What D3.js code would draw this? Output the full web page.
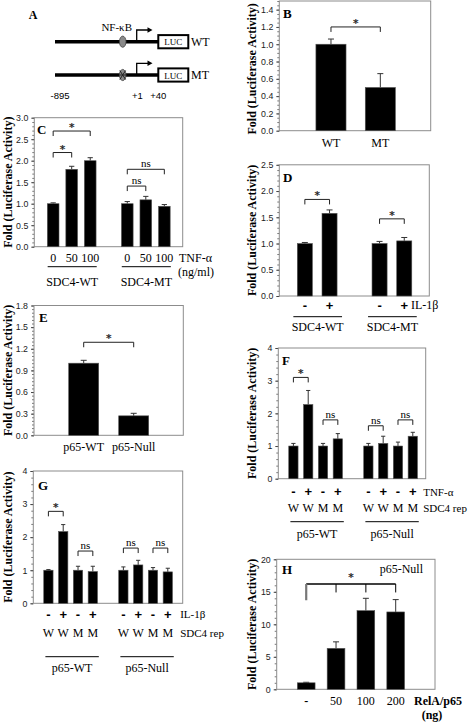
<!DOCTYPE html>
<html><head><meta charset="utf-8">
<script src="https://cdn.jsdelivr.net/npm/d3@7/dist/d3.min.js"></script>
<style>body{margin:0;background:#fff} svg{display:block} text.star{font-variant-emoji:text}</style>
</head><body><svg id="fig" width="475" height="723"></svg>
<script>
// ---------------- DATA ----------------
// Panel A (schematic)
const aConstructs = ["WT", "MT"];
const aPositions = ["-895", "+1", "+40"];
// Panel B
const bCategories = ["WT", "MT"];
const bValues = [1.0, 0.50];
const bErrors = [0.06, 0.16];
const bTicks = [0, 0.2, 0.4, 0.6, 0.8, 1.0, 1.2, 1.4];
const bBrackets = [{ g: 0, from: 0, to: 1, level: 1.2, label: "*" }];
// Panel C
const cGroups = ["SDC4-WT", "SDC4-MT"];
const cDoses = ["0", "50", "100"];
const cValues = [[1.0, 1.80, 2.0], [1.0, 1.09, 0.94]];
const cErrors = [[0.02, 0.07, 0.07], [0.05, 0.08, 0.04]];
const cTicks = [0, 0.5, 1.0, 1.5, 2.0, 2.5, 3.0];
const cBrackets = [
  { g: 0, from: 0, to: 2, level: 2.69, label: "*" },
  { g: 0, from: 0, to: 1, level: 2.19, label: "*" },
  { g: 1, from: 0, to: 2, level: 1.80, label: "ns" },
  { g: 1, from: 0, to: 1, level: 1.41, label: "ns" }
];
// Panel D
const dGroups = ["SDC4-WT", "SDC4-MT"];
const dTreat = ["-", "+"];
const dValues = [[1.0, 1.575], [1.0, 1.05]];
const dErrors = [[0.02, 0.065], [0.04, 0.065]];
const dTicks = [0, 0.5, 1.0, 1.5, 2.0, 2.5];
const dBrackets = [
  { g: 0, from: 0, to: 1, level: 1.84, label: "*" },
  { g: 1, from: 0, to: 1, level: 1.47, label: "*" }
];
// Panel E
const eCategories = ["p65-WT", "p65-Null"];
const eValues = [1.0, 0.27];
const eErrors = [0.04, 0.035];
const eTicks = [0, 0.3, 0.6, 0.9, 1.2, 1.5, 1.8];
const eBrackets = [{ g: 0, from: 0, to: 1, level: 1.29, label: "*" }];
// Panel F
const fGroups = ["p65-WT", "p65-Null"];
const fTreat = ["-", "+", "-", "+"];
const fReporter = ["W", "W", "M", "M"];
const fValues = [[1.0, 2.27, 1.0, 1.22], [1.0, 1.08, 1.0, 1.30]];
const fErrors = [[0.08, 0.43, 0.08, 0.16], [0.08, 0.22, 0.12, 0.12]];
const fTicks = [0, 1, 2, 3, 4];
const fBrackets = [
  { g: 0, from: 0, to: 1, level: 3.10, label: "*" },
  { g: 0, from: 2, to: 3, level: 1.80, label: "ns" },
  { g: 1, from: 0, to: 1, level: 1.62, label: "ns" },
  { g: 1, from: 2, to: 3, level: 1.80, label: "ns" }
];
// Panel G
const gGroups = ["p65-WT", "p65-Null"];
const gTreat = ["-", "+", "-", "+"];
const gReporter = ["W", "W", "M", "M"];
const gValues = [[1.0, 2.17, 1.0, 0.96], [1.0, 1.16, 1.0, 0.95]];
const gErrors = [[0.02, 0.21, 0.12, 0.16], [0.10, 0.14, 0.08, 0.11]];
const gTicks = [0, 1, 2, 3, 4];
const gBrackets = [
  { g: 0, from: 0, to: 1, level: 2.78, label: "*" },
  { g: 0, from: 2, to: 3, level: 1.58, label: "ns" },
  { g: 1, from: 0, to: 1, level: 1.67, label: "ns" },
  { g: 1, from: 2, to: 3, level: 1.67, label: "ns" }
];
// Panel H
const hDoses = ["-", "50", "100", "200"];
const hValues = [1.0, 6.3, 12.1, 11.9];
const hErrors = [0.08, 1.0, 1.9, 1.9];
const hTicks = [0, 5, 10, 15, 20];
const hBracket = { level: 16.2, baseEnd: 13.7, tickEnd: 14.9, label: "*" };

// ---------------- DRAWING ----------------
const svg = d3.select("#fig");
const SERIF = "'Liberation Serif','Times New Roman',serif";
const SANS = "'Liberation Sans',Arial,sans-serif";
const BOX = "#8c8c8c";

function txt(g, x, y, s, o = {}) {
  return g.append("text").attr("x", x).attr("y", y).text(s)
    .attr("font-family", o.family || SERIF).attr("font-size", o.size || 12)
    .attr("font-weight", o.weight || "normal").attr("text-anchor", o.anchor || "middle")
    .attr("dominant-baseline", "central").attr("fill", o.fill || "#000")
    .style("fill", o.fill || "#000");
}
function star(g, x, y) {
  // thin stroke makes the glyph render as a path (grayscale antialiasing)
  return txt(g, x, y + 1.5, "*", { size: 11, family: "'DejaVu Sans',sans-serif", fill: "#222" })
    .attr("class", "star").attr("stroke", "#222").attr("stroke-width", 0.25);
}

function drawPanel(p) {
  const g = svg.append("g");
  const y = d3.scaleLinear().domain([0, p.yMax]).range([p.bottom, p.top]);
  const x0 = d3.scaleBand().domain(p.groups).range(p.xRange).paddingInner(p.groupPad || 0).paddingOuter(0);
  const x1 = d3.scaleBand().domain(d3.range(p.items.length)).range([0, x0.bandwidth()])
    .paddingInner(p.barPad).paddingOuter(p.barPad / 2);
  const cx = (gi, ii) => x0(p.groups[gi]) + x1(ii) + x1.bandwidth() / 2;

  // minor ticks
  const minor = d3.range(0, p.yMax + 1e-9, p.minor);
  const mg = g.append("g").attr("transform", `translate(${p.left},0)`)
    .call(d3.axisLeft(y).tickValues(minor).tickSize(2).tickFormat(""));
  mg.select(".domain").remove();
  mg.selectAll("line").attr("stroke", "#555").attr("stroke-width", 0.8);
  // major ticks
  const ag = g.append("g").attr("transform", `translate(${p.left},0)`)
    .call(d3.axisLeft(y).tickValues(p.ticks).tickSize(3).tickPadding(3).tickFormat(p.fmt));
  ag.select(".domain").remove();
  ag.selectAll("line").attr("stroke", "#444");
  ag.selectAll("text").attr("font-family", SANS).attr("font-size", 8.8).attr("fill", "#222");
  // box
  g.append("rect").attr("x", p.left).attr("y", p.top).attr("width", p.right - p.left)
    .attr("height", p.bottom - p.top).attr("fill", "none").attr("stroke", BOX).attr("stroke-width", 1);

  // bars
  const flat = [];
  p.values.forEach((row, gi) => row.forEach((v, ii) => flat.push({ gi, ii, v, e: p.errors[gi][ii] })));
  const bw = x1.bandwidth();
  const cap = Math.min(6, bw * 0.45);
  g.selectAll("line.err").data(flat).join("line").attr("class", "err")
    .attr("x1", d => cx(d.gi, d.ii)).attr("x2", d => cx(d.gi, d.ii))
    .attr("y1", d => y(d.v)).attr("y2", d => y(d.v + d.e)).attr("stroke", "#333").attr("stroke-width", 1);
  g.selectAll("line.cap").data(flat).join("line").attr("class", "cap")
    .attr("x1", d => cx(d.gi, d.ii) - cap / 2).attr("x2", d => cx(d.gi, d.ii) + cap / 2)
    .attr("y1", d => y(d.v + d.e)).attr("y2", d => y(d.v + d.e)).attr("stroke", "#333").attr("stroke-width", 1);
  g.selectAll("rect.bar").data(flat).join("rect").attr("class", "bar")
    .attr("x", d => cx(d.gi, d.ii) - bw / 2).attr("width", bw)
    .attr("y", d => y(d.v)).attr("height", d => y(0) - y(d.v))
    .attr("fill", "#000").attr("stroke", "#555").attr("stroke-width", 0.6);

  // brackets
  (p.brackets || []).forEach(b => {
    const xa = cx(b.g, b.from), xb = cx(b.g, b.to), yl = y(b.level);
    g.append("path").attr("d", `M${xa},${yl + 5}V${yl}H${xb}V${yl + 5}`)
      .attr("fill", "none").attr("stroke", "#222").attr("stroke-width", 1);
    if (b.label === "*") star(g, (xa + xb) / 2, yl - 5);
    else txt(g, (xa + xb) / 2, yl - 6, b.label, { size: 11 });
  });

  // y title
  txt(g, 0, 0, "Fold (Luciferase Activity)", { size: 12, weight: "bold" })
    .attr("transform", `translate(${p.titleX},${(p.top + p.bottom) / 2 + (p.titleDy || 0)}) rotate(-90)`);
  // panel letter
  txt(g, p.letterX, p.letterY, p.letter, { size: 13, weight: "bold", anchor: "start" });
  return { g, y, cx, x0, x1 };
}

// ---------- Panel A ----------
(function () {
  const g = svg.append("g");
  txt(g, 33, 15, "A", { size: 12, weight: "bold" });
  txt(g, 116.7, 26.5, "NF-\u03BAB", { size: 11 });
  const rows = [41.7, 75];
  aConstructs.forEach((name, i) => {
    const yl = rows[i];
    g.append("line").attr("x1", 55).attr("x2", 158).attr("y1", yl).attr("y2", yl)
      .attr("stroke", "#000").attr("stroke-width", 3.5);
    g.append("ellipse").attr("cx", 122.7).attr("cy", yl).attr("rx", 3.3).attr("ry", 5.6)
      .attr("fill", "#8a8a8a").attr("stroke", "#444").attr("stroke-width", 0.8);
    if (name === "MT") {
      g.append("path").attr("d", `M119.8,${yl - 4.5}L125.6,${yl + 4.5}M125.6,${yl - 4.5}L119.8,${yl + 4.5}M119.5,${yl}H126`)
        .attr("stroke", "#222").attr("stroke-width", 1);
    }
    g.append("path").attr("d", `M136.7,${yl}V${yl - 11.7}H149`).attr("fill", "none")
      .attr("stroke", "#000").attr("stroke-width", 1.3);
    g.append("path").attr("d", `M152.5,${yl - 11.7}L147.5,${yl - 14.4}L147.5,${yl - 9}Z`).attr("fill", "#000");
    g.append("rect").attr("x", 158.3).attr("y", yl - 6.6).attr("width", 30).attr("height", 13.2)
      .attr("fill", "#fff").attr("stroke", "#000").attr("stroke-width", 2);
    txt(g, 173.3, yl + 0.5, "LUC", { size: 9 });
    txt(g, 191, yl, name, { size: 12, anchor: "start" });
  });
  const px = [60, 137.3, 158.3];
  aPositions.forEach((s, i) => txt(g, px[i], 95, s, { family: SANS, size: 9.5 }));
})();

// ---------- Panel B ----------
(function () {
  const P = drawPanel({
    left: 279.3, right: 430.7, top: 1, bottom: 130.7, yMax: 1.5, ticks: bTicks, minor: 0.05,
    fmt: d3.format(".1f"), groups: ["all"], items: bCategories, values: [bValues], errors: [bErrors],
    xRange: [306.3, 405], barPad: 0.39, brackets: bBrackets, titleX: 251.7, titleDy: 3,
    letter: "B", letterX: 283, letterY: 13
  });
  bCategories.forEach((c, i) => txt(P.g, P.cx(0, i), 143.3, c, { size: 12 }));
})();

// ---------- Panel C ----------
(function () {
  const P = drawPanel({
    left: 34.3, right: 182.7, top: 117.7, bottom: 246.7, yMax: 3, ticks: cTicks, minor: 0.1,
    fmt: d3.format(".1f"), groups: cGroups, items: cDoses, values: cValues, errors: cErrors,
    xRange: [43.9, 173.6], groupPad: 0.25, barPad: 0.37, brackets: cBrackets, titleX: 8,
    letter: "C", letterX: 37, letterY: 129
  });
  cGroups.forEach((gname, gi) => {
    cDoses.forEach((d, i) => txt(P.g, P.cx(gi, i), 258.3, d, { size: 12 }));
    const xa = P.cx(gi, 0) - 5.5, xb = P.cx(gi, cDoses.length - 1) + 6.5;
    P.g.append("line").attr("x1", xa).attr("x2", xb).attr("y1", 266.7).attr("y2", 266.7).attr("stroke", "#000");
    txt(P.g, (xa + xb) / 2, 281.7, gname, { size: 12 });
  });
  txt(P.g, 179, 258.3, "TNF-\u03B1", { size: 12, anchor: "start" });
  txt(P.g, 178, 272, "(ng/ml)", { size: 12, anchor: "start" });
})();

// ---------- Panel D ----------
(function () {
  const P = drawPanel({
    left: 279.3, right: 429.3, top: 164.8, bottom: 296, yMax: 2.5, ticks: dTicks, minor: 0.1,
    fmt: d3.format(".1f"), groups: dGroups, items: dTreat, values: dValues, errors: dErrors,
    xRange: [292.5, 416.6], groupPad: 0.339, barPad: 0.39, brackets: dBrackets, titleX: 251.7,
    letter: "D", letterX: 283, letterY: 177
  });
  dGroups.forEach((gname, gi) => {
    dTreat.forEach((d, i) => txt(P.g, P.cx(gi, i), 305, d, { size: 13, family: SANS, weight: "bold" }));
    const xa = P.cx(gi, 0) - 11.5, xb = P.cx(gi, dTreat.length - 1) + 12.5;
    P.g.append("line").attr("x1", xa).attr("x2", xb).attr("y1", 316.7).attr("y2", 316.7).attr("stroke", "#000");
    txt(P.g, (xa + xb) / 2, 326.7, gname, { size: 12 });
  });
  txt(P.g, 411, 305, "IL-1\u03B2", { size: 12, anchor: "start" });
})();

// ---------- Panel E ----------
(function () {
  const P = drawPanel({
    left: 34, right: 183.3, top: 305.5, bottom: 435.3, yMax: 1.8, ticks: eTicks, minor: 0.05,
    fmt: d3.format(".1f"), groups: ["all"], items: eCategories, values: [eValues], errors: [eErrors],
    xRange: [58.7, 158.7], barPad: 0.4, brackets: eBrackets, titleX: 8,
    letter: "E", letterX: 39, letterY: 317
  });
  eCategories.forEach((c, i) => txt(P.g, P.cx(0, i), 447.3, c, { size: 12 }));
})();

// ---------- Panels F & G ----------
function drawFG(cfg) {
  const P = drawPanel(cfg);
  cfg.groups.forEach((gname, gi) => {
    cfg.treat.forEach((d, i) => txt(P.g, P.cx(gi, i), cfg.rowY[0], d, { size: 13, family: SANS, weight: "bold" }));
    cfg.reporter.forEach((d, i) => txt(P.g, P.cx(gi, i), cfg.rowY[1], d, { size: 12 }));
    const xa = P.cx(gi, 0) - 3, xb = P.cx(gi, cfg.items.length - 1) + 6;
    P.g.append("line").attr("x1", xa).attr("x2", xb).attr("y1", cfg.rowY[2]).attr("y2", cfg.rowY[2]).attr("stroke", "#000");
    txt(P.g, (xa + xb) / 2, cfg.rowY[3], gname, { size: 12 });
  });
  txt(P.g, cfg.right - 2.5, cfg.rowY[0], cfg.stim, { size: 11, anchor: "start" });
  txt(P.g, cfg.right - 2.5, cfg.rowY[1], "SDC4 rep", { size: 11, anchor: "start" });
}
drawFG({
  left: 278.3, right: 425.7, top: 348, bottom: 478.7, yMax: 4, ticks: fTicks, minor: 0.2,
  fmt: d3.format("d"), groups: fGroups, items: fTreat, treat: fTreat, reporter: fReporter,
  values: fValues, errors: fErrors, xRange: [286, 420.2], groupPad: 0.21, barPad: 0.37,
  brackets: fBrackets, titleX: 251.7, letter: "F", letterX: 282, letterY: 360,
  rowY: [491.7, 508.3, 521.7, 534], stim: "TNF-\u03B1"
});
drawFG({
  left: 33.3, right: 182.7, top: 471, bottom: 603.3, yMax: 4, ticks: gTicks, minor: 0.2,
  fmt: d3.format("d"), groups: gGroups, items: gTreat, treat: gTreat, reporter: gReporter,
  values: gValues, errors: gErrors, xRange: [41, 175.2], groupPad: 0.21, barPad: 0.37,
  brackets: gBrackets, titleX: 8, letter: "G", letterX: 38, letterY: 485,
  rowY: [614.3, 633.3, 656.7, 668.3], stim: "IL-1\u03B2"
});

// ---------- Panel H ----------
(function () {
  const P = drawPanel({
    left: 276.7, right: 435, top: 559.3, bottom: 689.3, yMax: 20, ticks: hTicks, minor: 1,
    fmt: d3.format("d"), groups: ["all"], items: hDoses, values: [hValues], errors: [hErrors],
    xRange: [291.3, 410.6], barPad: 0.406, titleX: 251.7,
    letter: "H", letterX: 282, letterY: 569
  });
  const y = P.y;
  const xs = hDoses.map((d, i) => P.cx(0, i));
  const yl = y(hBracket.level);
  P.g.append("line").attr("x1", xs[0]).attr("x2", xs[xs.length - 1]).attr("y1", yl).attr("y2", yl)
    .attr("stroke", "#000").attr("stroke-width", 1.3);
  P.g.append("line").attr("x1", xs[0]).attr("x2", xs[0]).attr("y1", yl).attr("y2", y(hBracket.baseEnd))
    .attr("stroke", "#777").attr("stroke-width", 2.2);
  xs.slice(1).forEach(x => P.g.append("line").attr("x1", x).attr("x2", x).attr("y1", yl)
    .attr("y2", y(hBracket.tickEnd)).attr("stroke", "#000").attr("stroke-width", 1));
  star(P.g, (xs[1] + xs[2]) / 2, yl - 8);
  txt(P.g, 423, 569, "p65-Null", { size: 12, anchor: "end" });
  hDoses.forEach((d, i) => txt(P.g, xs[i], 701, d, { size: 12, weight: d === "-" ? "bold" : "normal" }));
  txt(P.g, 414, 701, "RelA/p65", { size: 12, weight: "bold", anchor: "start" });
  txt(P.g, 432, 714.5, "(ng)", { size: 12, weight: "bold" });
})();
</script></body></html>
